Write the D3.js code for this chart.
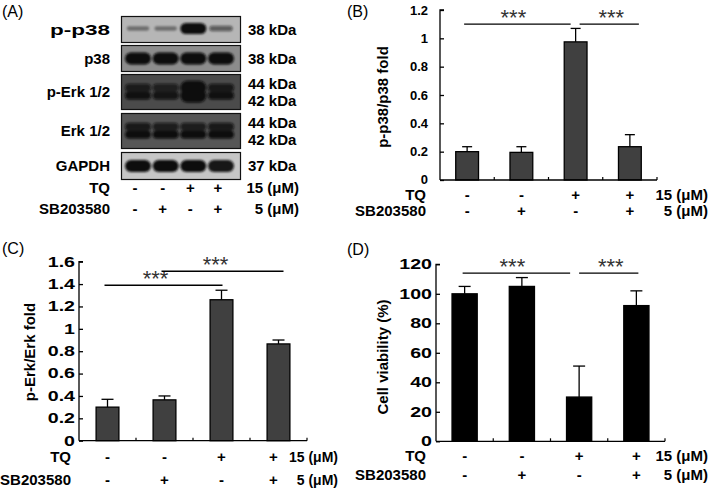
<!DOCTYPE html>
<html><head><meta charset="utf-8">
<script src="https://cdn.jsdelivr.net/npm/d3@7"></script>
<style>
html,body{margin:0;padding:0;background:#fff;}
svg{display:block;font-family:"Liberation Sans",Arial,sans-serif;}
.b{font-weight:bold;}
</style></head>
<body>
<svg id="fig" width="709" height="488"></svg>
<script>
// ---------- data ----------
const tqMarks = ["-", "-", "+", "+"];
const sbMarks = ["-", "+", "-", "+"];
const groups = ["g1", "g2", "g3", "g4"];
const tqDose = "15 (μM)";
const sbDose = "5 (μM)";

const pp38Values = [0.20, 0.195, 0.975, 0.235];
const pp38Err    = [0.035, 0.04, 0.095, 0.085];
const pp38Ticks  = [0, 0.2, 0.4, 0.6, 0.8, 1, 1.2];

const pErkValues = [0.30, 0.365, 1.26, 0.865];
const pErkErr    = [0.07, 0.035, 0.085, 0.035];
const pErkTicks  = [0, 0.2, 0.4, 0.6, 0.8, 1, 1.2, 1.4, 1.6];

const viabValues = [100, 105, 30, 92];
const viabErr    = [5, 6, 21, 10];
const viabTicks  = [0, 20, 40, 60, 80, 100, 120];

// significance comparisons: [from group, to group, level]
const pp38Sig = [[0, 2, 1.10], [2, 3, 1.10]];
const pErkSig = [[0, 2, 1.39], [1, 3, 1.515]];
const viabSig = [[0, 2, 114], [2, 3, 114]];

// western blot
const blotRows  = ["p-p38", "p38", "p-Erk 1/2", "Erk 1/2", "GAPDH"];
const blotKDa   = [["38 kDa"], ["38 kDa"], ["44 kDa", "42 kDa"], ["44 kDa", "42 kDa"], ["37 kDa"]];
const blotBands = [
  [[0.4, 0.4, 1.0, 0.55]],
  [[1, 1, 1, 1]],
  [[0.8, 0.75, 1, 0.85], [0.95, 0.9, 1, 0.95]],
  [[0.85, 0.8, 0.8, 0.85], [1, 1, 1, 1]],
  [[1, 1, 1, 0.95]]
];
const blotBg = ["#b6b6b6", "#8c8c8c", "#4b4b4b", "#565656", "#c6c6c6"];

// ---------- drawing ----------
const svg = d3.select("#fig");
const defs = svg.append("defs");
defs.append("filter").attr("id", "blur").attr("x", "-50%").attr("y", "-100%").attr("width", "200%").attr("height", "300%")
  .append("feGaussianBlur").attr("stdDeviation", 1.3);

function panelLabel(t, x, y) {
  svg.append("text").attr("x", x).attr("y", y).attr("dy", "0.35em")
    .attr("font-size", 16).text(t);
}
panelLabel("(A)", 2, 11);
panelLabel("(B)", 347, 11);
panelLabel("(C)", 2, 248);
panelLabel("(D)", 347, 249);

function stretchedText(g, t, x, y, size, sx, anchor) {
  return g.append("text").attr("class", "b").attr("font-size", size).attr("text-anchor", anchor)
    .attr("x", x).attr("y", y).attr("dy", "0.35em")
    .attr("transform", `translate(${x},${y}) scale(${sx},1) translate(${-x},${-y})`).text(t);
}

// ---- Panel A ----
(function () {
  const bx0 = 121, bx1 = 241;
  const rowBounds = [[16, 43], [45, 72], [74, 110], [113, 149], [152, 180]];
  const labelSx = [1.5, 1, 1, 1, 1];
  const lane = d3.scalePoint().domain(groups).range([138, 221]);
  const g = svg.append("g");
  blotRows.forEach((name, i) => {
    const [y0, y1] = rowBounds[i];
    g.append("rect").attr("x", bx0).attr("y", y0).attr("width", bx1 - bx0).attr("height", y1 - y0)
      .attr("fill", blotBg[i]);
    const nb = blotBands[i].length;
    const bandG = g.append("g").attr("filter", "url(#blur)");
    blotBands[i].forEach((vals, j) => {
      const cy = nb === 1 ? (y0 + y1) / 2 - (i === 0 ? 1 : 0) : y0 + (y1 - y0) * (j === 0 ? 0.38 : 0.6);
      vals.forEach((v, k) => {
        let h = i === 0 ? 3 + 8 * v * v : (nb === 1 ? 12 : 8);
        let w = i === 0 ? 20 + 6 * v : 26;
        if (i === 2 && k === 2) h = 14;
        bandG.append("rect")
          .attr("x", lane(groups[k]) - w / 2).attr("y", cy - h / 2)
          .attr("width", w).attr("height", h).attr("rx", h / 2)
          .attr("fill", "#0c0c0c").attr("opacity", v);
      });
    });
    g.append("rect").attr("x", bx0 + 0.5).attr("y", y0 + 0.5).attr("width", bx1 - bx0 - 1).attr("height", y1 - y0 - 1)
      .attr("fill", "none").attr("stroke", "#111").attr("stroke-width", 1.2);
    // row label
    stretchedText(g, name, 110, (y0 + y1) / 2, 15, labelSx[i], "end");
    // kDa
    const kd = blotKDa[i];
    kd.forEach((t, j) => {
      const yy = kd.length === 1 ? (y0 + y1) / 2 : (y0 + y1) / 2 + (j === 0 ? -8.5 : 8.5);
      g.append("text").attr("class", "b").attr("font-size", 15).attr("x", 248).attr("y", yy).attr("dy", "0.35em").text(t);
    });
  });
  // treatment rows
  [["TQ", tqMarks, tqDose, 187.5], ["SB203580", sbMarks, sbDose, 209]].forEach(([lab, marks, dose, y]) => {
    g.append("text").attr("class", "b").attr("font-size", 15).attr("text-anchor", "end").attr("x", 110).attr("y", y).attr("dy", "0.35em").text(lab);
    marks.forEach((m, k) => g.append("text").attr("class", "b").attr("font-size", 15).attr("text-anchor", "middle")
      .attr("x", lane(groups[k]) - 3).attr("y", y).attr("dy", "0.35em").text(m));
    g.append("text").attr("class", "b").attr("font-size", 15).attr("text-anchor", "end").attr("x", 299).attr("y", y).attr("dy", "0.35em").text(dose);
  });
})();

// ---- bar panels ----
function barPanel(o) {
  const g = svg.append("g");
  const x = d3.scaleBand().domain(groups).range([o.x0, o.x1]).paddingInner(o.pad).paddingOuter(o.pad / 2);
  const y = d3.scaleLinear().domain(o.domain).range([o.yb, o.yt]);
  const cx = i => x(groups[i]) + x.bandwidth() / 2;
  // bars
  g.selectAll("rect.bar").data(o.values).join("rect").attr("class", "bar")
    .attr("x", (d, i) => x(groups[i])).attr("width", x.bandwidth())
    .attr("y", d => y(d)).attr("height", d => y(0) - y(d))
    .attr("fill", o.fill).attr("stroke", "#000").attr("stroke-width", 1.3);
  // error bars
  o.values.forEach((v, i) => {
    const top = y(v + o.err[i]);
    g.append("line").attr("x1", cx(i)).attr("x2", cx(i)).attr("y1", y(v)).attr("y2", top).attr("stroke", "#000").attr("stroke-width", 1.3);
    g.append("line").attr("x1", cx(i) - o.cap / 2).attr("x2", cx(i) + o.cap / 2).attr("y1", top).attr("y2", top).attr("stroke", "#000").attr("stroke-width", 1.3);
  });
  // y axis
  const ya = d3.axisRight(y).tickValues(o.ticks).tickSize(4).tickFormat("");
  const yag = g.append("g").attr("transform", `translate(${o.x0},0)`).call(ya);
  yag.select(".domain").attr("d", `M4,${o.yt}H0V${o.yb}`);
  yag.selectAll("line,path").attr("stroke", "#000").attr("stroke-width", 1.3);
  o.ticks.forEach(d => stretchedText(g, d3.format("~g")(d), o.x0 - o.tickGap, y(d) + (d === 0 ? o.zeroShift : 0), o.tickFont, o.tickSx, "end"));
  // x axis with boundary ticks pointing up
  const bounds = d3.range(1, groups.length + 1).map(i => x(groups[i - 1]) + x.bandwidth() + x.step() * o.pad / 2);
  g.append("line").attr("x1", o.x0).attr("x2", o.x1).attr("y1", o.yb).attr("y2", o.yb).attr("stroke", "#000").attr("stroke-width", 1.3);
  bounds.forEach(b => g.append("line").attr("x1", b).attr("x2", b).attr("y1", o.yb).attr("y2", o.yb - 3).attr("stroke", "#000").attr("stroke-width", 1.2));
  // y title
  g.append("text").attr("class", "b").attr("font-size", 15).attr("text-anchor", "middle")
    .attr("transform", `translate(${o.titleX},${o.titleY}) rotate(-90)`).attr("dy", "0.35em").text(o.title);
  // significance
  o.sig.forEach(([a, b, lvl], k) => {
    const xa = cx(a) + o.sigOff[k][0], xb = cx(b) + o.sigOff[k][1];
    g.append("line").attr("x1", xa).attr("x2", xb).attr("y1", y(lvl)).attr("y2", y(lvl)).attr("stroke", "#000").attr("stroke-width", 1.4);
    g.append("text").attr("font-size", 22).attr("fill", "#333").attr("text-anchor", "middle")
      .attr("x", (xa + xb) / 2 + o.starOff[k]).attr("y", y(lvl) + 0.5).text("***");
  });
  // treatment rows
  [["TQ", tqMarks, tqDose, o.rowY[0]], ["SB203580", sbMarks, sbDose, o.rowY[1]]].forEach(([lab, marks, dose, yy]) => {
    g.append("text").attr("class", "b").attr("font-size", 15).attr("text-anchor", "end").attr("x", o.labX).attr("y", yy).attr("dy", "0.35em").text(lab);
    marks.forEach((m, k) => g.append("text").attr("class", "b").attr("font-size", 15).attr("text-anchor", "middle")
      .attr("x", cx(k) + o.markOff[k]).attr("y", yy).attr("dy", "0.35em").text(m));
    g.append("text").attr("class", "b").attr("font-size", o.doseFont).attr("text-anchor", "end").attr("x", o.doseX).attr("y", yy).attr("dy", "0.35em").text(dose);
  });
}

barPanel({x0: 440, x1: 657, yt: 10, yb: 180, domain: [0, 1.2], pad: 0.58, values: pp38Values, err: pp38Err,
  ticks: pp38Ticks, tickFont: 13, tickSx: 1, tickGap: 12, zeroShift: -1, fill: "#404040", cap: 10,
  title: "p-p38/p38 fold", titleX: 383, titleY: 97, sig: pp38Sig, sigOff: [[-3, -5], [4, 9]], starOff: [-4, 2],
  rowY: [194.5, 210.5], labX: 426, doseX: 708, doseFont: 15, markOff: [0, 0, 0, 0]});

barPanel({x0: 79, x1: 307, yt: 261.7, yb: 440.7, domain: [0, 1.6], pad: 0.6, values: pErkValues, err: pErkErr,
  ticks: pErkTicks, tickFont: 14, tickSx: 1.4, tickGap: 4, zeroShift: 0, fill: "#404040", cap: 12,
  title: "p-Erk/Erk fold", titleX: 30, titleY: 352, sig: pErkSig, sigOff: [[-3, 1], [-3, 5]], starOff: [-8, -7],
  rowY: [457, 480], labX: 71, doseX: 338, doseFont: 14, markOff: [0, 0, 0, -5]});

barPanel({x0: 436, x1: 665, yt: 264.3, yb: 441.3, domain: [0, 120], pad: 0.56, values: viabValues, err: viabErr,
  ticks: viabTicks, tickFont: 14, tickSx: 1.4, tickGap: 4, zeroShift: 0, fill: "#000", cap: 12,
  title: "Cell viability (%)", titleX: 383, titleY: 357, sig: viabSig, sigOff: [[-2, -9], [0, 2]], starOff: [-4, 2],
  rowY: [456, 475], labX: 426, doseX: 708, doseFont: 15, markOff: [0, 0, 0, 0]});
</script>
</body></html>
